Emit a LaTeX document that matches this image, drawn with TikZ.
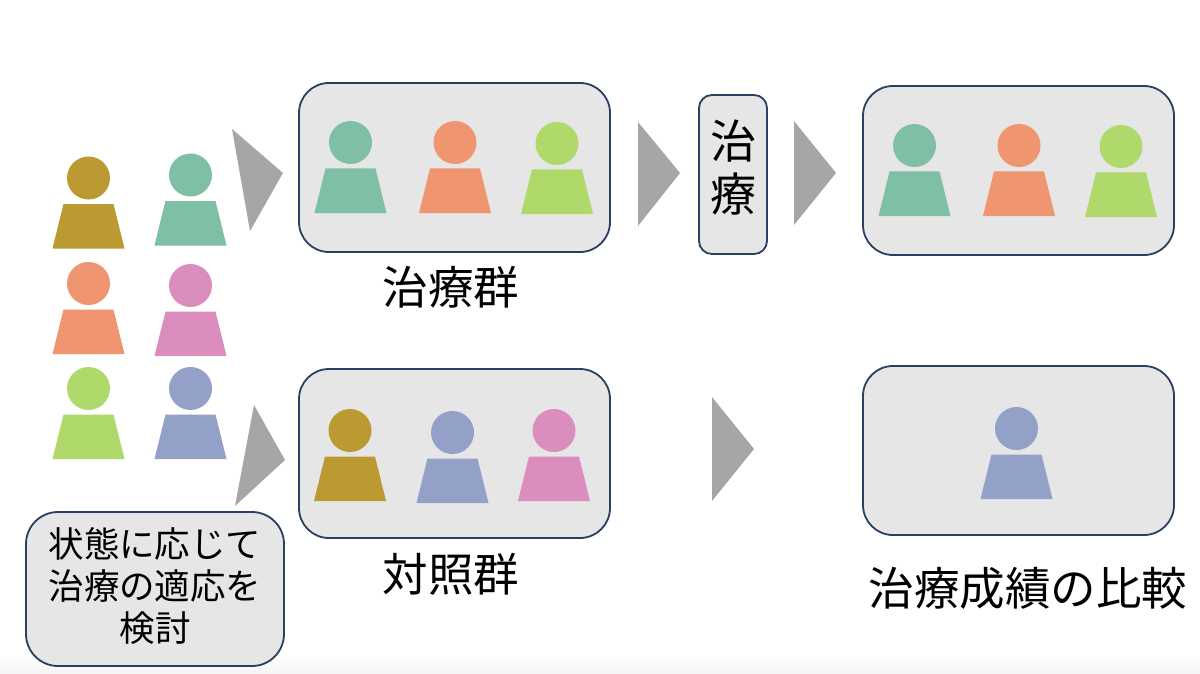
\documentclass[tikz,border=0pt]{standalone}
\usepackage{fontspec}
\setmainfont{Noto Sans CJK JP}[Scale=1.0]
\definecolor{cgold}{HTML}{BC9A32}
\definecolor{cteal}{HTML}{7FBFA5}
\definecolor{corange}{HTML}{EF9570}
\definecolor{cpink}{HTML}{DB8DBE}
\definecolor{cgreen}{HTML}{B0D96B}
\definecolor{cblue}{HTML}{93A0C8}
\definecolor{carrow}{HTML}{A6A6A6}
\definecolor{cbox}{HTML}{E6E6E6}
\definecolor{cline}{HTML}{2B3F63}
\tikzset{
  panel/.style={draw=cline,fill=cbox,line width=1.8pt,rounded corners=#1,inner sep=0pt,align=center},
  panel/.default=30pt,
  person/.pic={
    \fill[pic actions] (0,-0.5) circle (21.5);
    \fill[pic actions] (-25,25.5) -- (25,25.5) -- (36,70) -- (-36,70) -- cycle;
  },
  chevron/.style={fill=carrow,draw=none},
  biglabel/.style={font=\fontsize{45.5}{45.5}\selectfont,inner sep=0pt},
  notelabel/.style={font=\fontsize{35.5}{42}\selectfont,inner sep=0pt,align=center},
  treatlabel/.style={font=\fontsize{46}{53}\selectfont,inner sep=0pt,align=center}
}
\begin{document}
\begin{tikzpicture}[x=1pt,y=-1pt]
\useasboundingbox (0,0) rectangle (1200,674);
\fill[white] (0,0) rectangle (1200,674);
\fill[bottom color=black!4,top color=white] (0,655) rectangle (1200,674);
% panels
\node[panel,minimum width=311pt,minimum height=169pt] (g1) at (454.5,167.5) {};
\node[panel,minimum width=311pt,minimum height=169pt] (g2) at (454.5,453.5) {};
\node[panel,minimum width=311pt,minimum height=169pt] (g3) at (1018.5,170.5) {};
\node[panel,minimum width=311pt,minimum height=169pt] (g4) at (1018.5,450.5) {};
\node[panel=13pt,minimum width=68pt,minimum height=159pt] (tr) at (733,174.5) {};
\node[treatlabel] (trtext) at (733,167.5) {治\\療};
\node[panel=32pt,minimum width=258pt,minimum height=154pt] (note) at (155,589) {};
\node[notelabel] (notetext) at (155,586) {状態に応じて\\治療の適応を\\検討};
% labels
\node[biglabel] (l1) at (451,287) {治療群};
\node[biglabel] (l2) at (451,574) {対照群};
\node[biglabel] (l3) at (1028,588) {治療成績の比較};
% arrows
\fill[chevron] (232,129) -- (283,173) -- (250,231) -- cycle;
\fill[chevron] (254,405) -- (285,460) -- (235,506) -- cycle;
\fill[chevron] (638,122) -- (680,173) -- (638,226) -- cycle;
\fill[chevron] (794,121) -- (836,173) -- (794,225) -- cycle;
\fill[chevron] (712,397) -- (754,449) -- (712,501) -- cycle;
% people
\pic[fill=cgold] at (88.5,178.5) {person};
\pic[fill=cteal] at (190.5,175.5) {person};
\pic[fill=corange] at (88.5,284) {person};
\pic[fill=cpink] at (190.5,286) {person};
\pic[fill=cgreen] at (88.5,389) {person};
\pic[fill=cblue] at (190.5,389) {person};
\pic[fill=cteal] at (350.5,143) {person};
\pic[fill=corange] at (455,143) {person};
\pic[fill=cgreen] at (557,144) {person};
\pic[fill=cgold] at (350,431) {person};
\pic[fill=cblue] at (452.5,433) {person};
\pic[fill=cpink] at (554,431) {person};
\pic[fill=cteal] at (914.5,146) {person};
\pic[fill=corange] at (1019,146) {person};
\pic[fill=cgreen] at (1121,147) {person};
\pic[fill=cblue] at (1016.5,429) {person};
\end{tikzpicture}
\end{document}
